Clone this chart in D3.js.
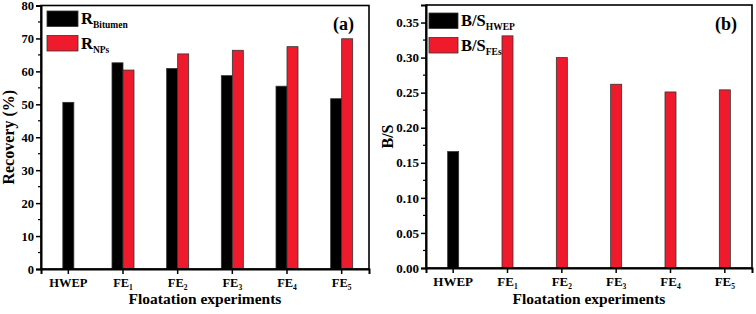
<!DOCTYPE html>
<html>
<head>
<meta charset="utf-8">
<script src="https://cdn.jsdelivr.net/npm/d3@7"></script>
<style>
  body { margin: 0; background: #fff; }
  text { font-family: "Liberation Serif", "Times New Roman", serif; font-weight: bold; fill: #000; }
</style>
</head>
<body>
<div id="chart"></div>
<script>
var categories = ["HWEP", "FE1", "FE2", "FE3", "FE4", "FE5"];

// panel (a): recovery, %
var recoveryBitumen = [50.6, 62.6, 60.9, 58.7, 55.5, 51.7];
var recoveryNPs = [null, 60.4, 65.3, 66.4, 67.5, 69.9];
var recoveryTicks = [0, 10, 20, 30, 40, 50, 60, 70, 80];

// panel (b): B/S ratio
var bsHWEP = [0.166, null, null, null, null, null];
var bsFEs = [null, 0.331, 0.300, 0.262, 0.251, 0.254];
var bsTicks = [0, 0.05, 0.10, 0.15, 0.20, 0.25, 0.30, 0.35];

var red = "#ef1b2d";
var barW = 11;

var svg = d3.select("#chart")
    .append("svg")
    .attr("width", 756)
    .attr("height", 314);

// "FE1" -> FE with subscript 1
function tickLabel(sel, size) {
    sel.each(function(d) {
        var t = d3.select(this);
        var m = d.match(/^(\D+)(\d*)$/);
        t.append("tspan").text(m[1]);
        if (m[2]) {
            t.append("tspan")
                .attr("font-size", 7.5)
                .attr("dy", 2.5)
                .text(m[2]);
        }
    });
}

function panel(opt) {
    var g = svg.append("g");

    var x = d3.scaleBand()
        .domain(categories)
        .range([opt.left, opt.right])
        .padding(0);

    var y = d3.scaleLinear()
        .domain(opt.yDomain)
        .range([opt.bottom, opt.top]);

    // bars
    opt.series.forEach(function(s, si) {
        var other = opt.series[1 - si];
        g.append("g")
            .selectAll("rect")
            .data(s.values.map(function(v, i) { return {v: v, i: i}; }).filter(function(d) { return d.v != null; }))
            .join("rect")
            .attr("x", function(d) {
                var c = x(categories[d.i]) + x.bandwidth() / 2;
                var paired = other.values[d.i] != null;
                if (!paired) return c - barW / 2;
                return si === 0 ? c - barW : c;
            })
            .attr("width", barW)
            .attr("y", function(d) { return y(d.v); })
            .attr("height", function(d) { return y(0) - y(d.v); })
            .attr("fill", s.color)
            .attr("stroke", "#333")
            .attr("stroke-width", 0.8);
    });

    // frame
    g.append("rect")
        .attr("x", opt.left)
        .attr("y", y(opt.yDomain[1]))
        .attr("width", opt.right - opt.left)
        .attr("height", y(0) - y(opt.yDomain[1]))
        .attr("fill", "none")
        .attr("stroke", "#000")
        .attr("stroke-width", 1.6);

    // y axis
    var yAxis = g.append("g")
        .attr("transform", "translate(" + opt.left + ",0)")
        .call(d3.axisLeft(y).tickValues(opt.yTicks).tickFormat(opt.yFormat).tickSize(5).tickPadding(2));
    yAxis.select(".domain").attr("stroke-width", 2);
    yAxis.selectAll(".tick line").attr("stroke-width", 1.5);
    yAxis.selectAll(".tick text")
        .attr("font-size", opt.tickSize);

    var minor = [];
    for (var k = 0; k < opt.yTicks.length - 1; k++) minor.push((opt.yTicks[k] + opt.yTicks[k + 1]) / 2);
    g.append("g")
        .selectAll("line")
        .data(minor)
        .join("line")
        .attr("x1", opt.left - 3)
        .attr("x2", opt.left)
        .attr("y1", function(d) { return y(d); })
        .attr("y2", function(d) { return y(d); })
        .attr("stroke", "#000")
        .attr("stroke-width", 1.2);

    // x axis
    var xAxis = g.append("g")
        .attr("transform", "translate(0," + opt.bottom + ")")
        .call(d3.axisBottom(x).tickSize(5).tickFormat(""));
    xAxis.select(".domain").attr("stroke-width", 2);
    xAxis.selectAll(".tick line").attr("stroke-width", 1.5);

    g.append("g")
        .selectAll("text")
        .data(categories)
        .join("text")
        .attr("x", function(d) { return x(d) + x.bandwidth() / 2; })
        .attr("y", opt.bottom + 18)
        .attr("text-anchor", "middle")
        .attr("font-size", opt.tickSize)
        .call(tickLabel, opt.tickSize);

    // axis titles
    g.append("text")
        .attr("x", (opt.left + opt.right) / 2)
        .attr("y", 304)
        .attr("text-anchor", "middle")
        .attr("font-size", 15.5)
        .text("Floatation experiments");

    g.append("text")
        .attr("transform", "translate(" + opt.yTitleX + "," + ((opt.top + opt.bottom) / 2) + ") rotate(-90)")
        .attr("text-anchor", "middle")
        .attr("font-size", 16)
        .text(opt.yTitle);

    // panel letter
    g.append("text")
        .attr("x", opt.right - 15)
        .attr("y", 30)
        .attr("text-anchor", "end")
        .attr("font-size", 18)
        .text(opt.letter);

    // legend
    opt.series.forEach(function(s, si) {
        var ly = opt.legendY + si * 24.5;
        g.append("rect")
            .attr("x", opt.legendX)
            .attr("y", ly)
            .attr("width", opt.legendW)
            .attr("height", 15.5)
            .attr("fill", s.color)
            .attr("stroke", "#333")
            .attr("stroke-width", 0.8);
        var t = g.append("text")
            .attr("x", opt.legendX + opt.legendW + 3)
            .attr("y", ly + 13)
            .attr("font-size", 16.5);
        t.append("tspan").text(s.base);
        t.append("tspan")
            .attr("font-size", 9.5)
            .attr("dy", 4)
            .text(s.sub);
    });
}

panel({
    left: 41, right: 369, top: 5.5, bottom: 269,
    yDomain: [0, 80], yTicks: recoveryTicks, yFormat: d3.format("d"),
    tickSize: 12.5, yTitle: "Recovery (%)", yTitleX: 14, letter: "(a)",
    legendX: 47, legendY: 11, legendW: 31,
    series: [
        {values: recoveryBitumen, color: "#000", base: "R", sub: "Bitumen"},
        {values: recoveryNPs, color: red, base: "R", sub: "NPs"}
    ]
});

panel({
    left: 426, right: 752, top: 5, bottom: 268,
    yDomain: [0, 0.375], yTicks: bsTicks, yFormat: d3.format(".2f"),
    tickSize: 13, yTitle: "B/S", yTitleX: 393, letter: "(b)",
    legendX: 429, legendY: 13, legendW: 29,
    series: [
        {values: bsHWEP, color: "#000", base: "B/S", sub: "HWEP"},
        {values: bsFEs, color: red, base: "B/S", sub: "FEs"}
    ]
});
</script>
</body>
</html>
